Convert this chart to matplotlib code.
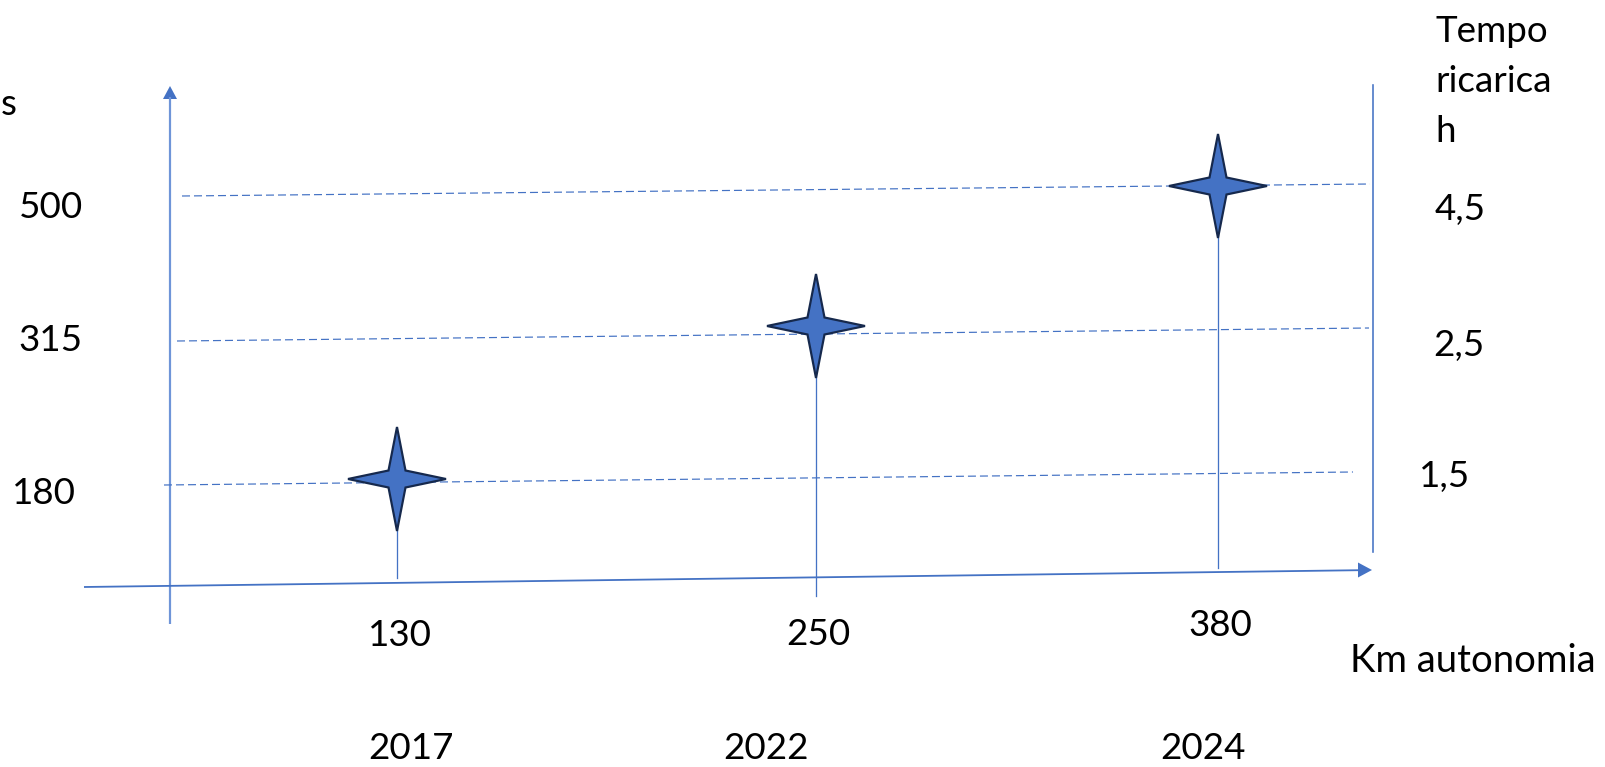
import matplotlib
matplotlib.use("Agg")
import matplotlib.pyplot as plt
from matplotlib.patches import Polygon

plt.rcParams['font.family'] = ['Lato', 'DejaVu Sans']
plt.rcParams['lines.scale_dashes'] = False

# --- data -------------------------------------------------------------
years = ['2017', '2022', '2024']
km_range = [130, 250, 380]
left_values = [180, 315, 500]
charge_hours = [1.5, 2.5, 4.5]

# --- layout (figure pixels, y grows downward) --------------------------
W, H = 1605, 767
star_x = [397, 816, 1218]
star_y = [479, 326, 186]
stem_end = [578, 596, 568]
guide_start = [(164, 485), (177, 341), (182, 196)]
guide_end = [(1353, 472), (1369, 328), (1370, 184)]
left_label_pos = [(44, 504), (50, 351), (51, 218)]
hour_label_pos = [(1419, 487), (1433, 356), (1435, 220)]
km_label_pos = [(400, 646), (818, 645), (1220, 636)]
year_label_x = [411, 766, 1203]

BLUE = '#4472C4'
LIGHT_BLUE = '#6F95D8'
STAR_EDGE = '#16294D'
FS = 26.5


def px(v):
    return v * 0.72


def star_vertices(cx, cy, rx=49, ry=52, inner=8.5):
    return [(cx, cy - ry), (cx + inner, cy - inner), (cx + rx, cy),
            (cx + inner, cy + inner), (cx, cy + ry), (cx - inner, cy + inner),
            (cx - rx, cy), (cx - inner, cy - inner)]


fig = plt.figure(figsize=(W / 100, H / 100), dpi=100)
ax = fig.add_axes([0, 0, 1, 1])
ax.set_xlim(0, W)
ax.set_ylim(H, 0)
ax.axis('off')

# vertical axis with arrow head
ax.plot([170, 170], [624, 97], color=LIGHT_BLUE, lw=px(2.2), solid_capstyle='butt')
ax.add_patch(Polygon([(170, 86), (163, 99), (177, 99)], closed=True,
                     facecolor=BLUE, edgecolor='none'))

# horizontal axis with arrow head
ax.plot([84, 1359], [587, 570.2], color=BLUE, lw=px(1.8), solid_capstyle='butt')
ax.add_patch(Polygon([(1372, 570), (1358, 562.5), (1358, 577.5)], closed=True,
                     facecolor=BLUE, edgecolor='none'))

# right-hand vertical line
ax.plot([1373, 1373], [85, 552], color=BLUE, lw=px(1.6))

# dashed guide lines, one per level
for (x0, y0), (x1, y1) in zip(guide_start, guide_end):
    ax.plot([x0, x1], [y0, y1], color=BLUE, lw=px(1.2), dashes=(px(8), px(4)))

# stems and stars
for x, y, ye in zip(star_x, star_y, stem_end):
    ax.plot([x, x], [y, ye], color=BLUE, lw=px(1.3), zorder=2)
    ax.add_patch(Polygon(star_vertices(x, y), closed=True, facecolor=BLUE,
                         edgecolor=STAR_EDGE, lw=px(2.2), joinstyle='miter', zorder=3))

# left values
for v, (x, y) in zip(left_values, left_label_pos):
    ax.text(x, y, f'{v}', fontsize=FS, ha='center', va='baseline')

# recharge hours on the right
for v, (x, y) in zip(charge_hours, hour_label_pos):
    ax.text(x, y, f'{v:.1f}'.replace('.', ','), fontsize=FS, ha='left', va='baseline')

# km labels
for v, (x, y) in zip(km_range, km_label_pos):
    ax.text(x, y, f'{v}', fontsize=FS, ha='center', va='baseline')

# years
for yr, x in zip(years, year_label_x):
    ax.text(x, 759, yr, fontsize=FS, ha='center', va='baseline')

# axis titles
ax.text(1, 115, 's', fontsize=FS, ha='left', va='baseline')
ax.text(1350, 672, 'Km autonomia', fontsize=FS + 1, ha='left', va='baseline')
for line, yb in zip(['Tempo', 'ricarica', 'h'], [42, 92, 142]):
    ax.text(1435, yb, line, fontsize=FS, ha='left', va='baseline')

fig.savefig('out.png', dpi=100, facecolor='white')
